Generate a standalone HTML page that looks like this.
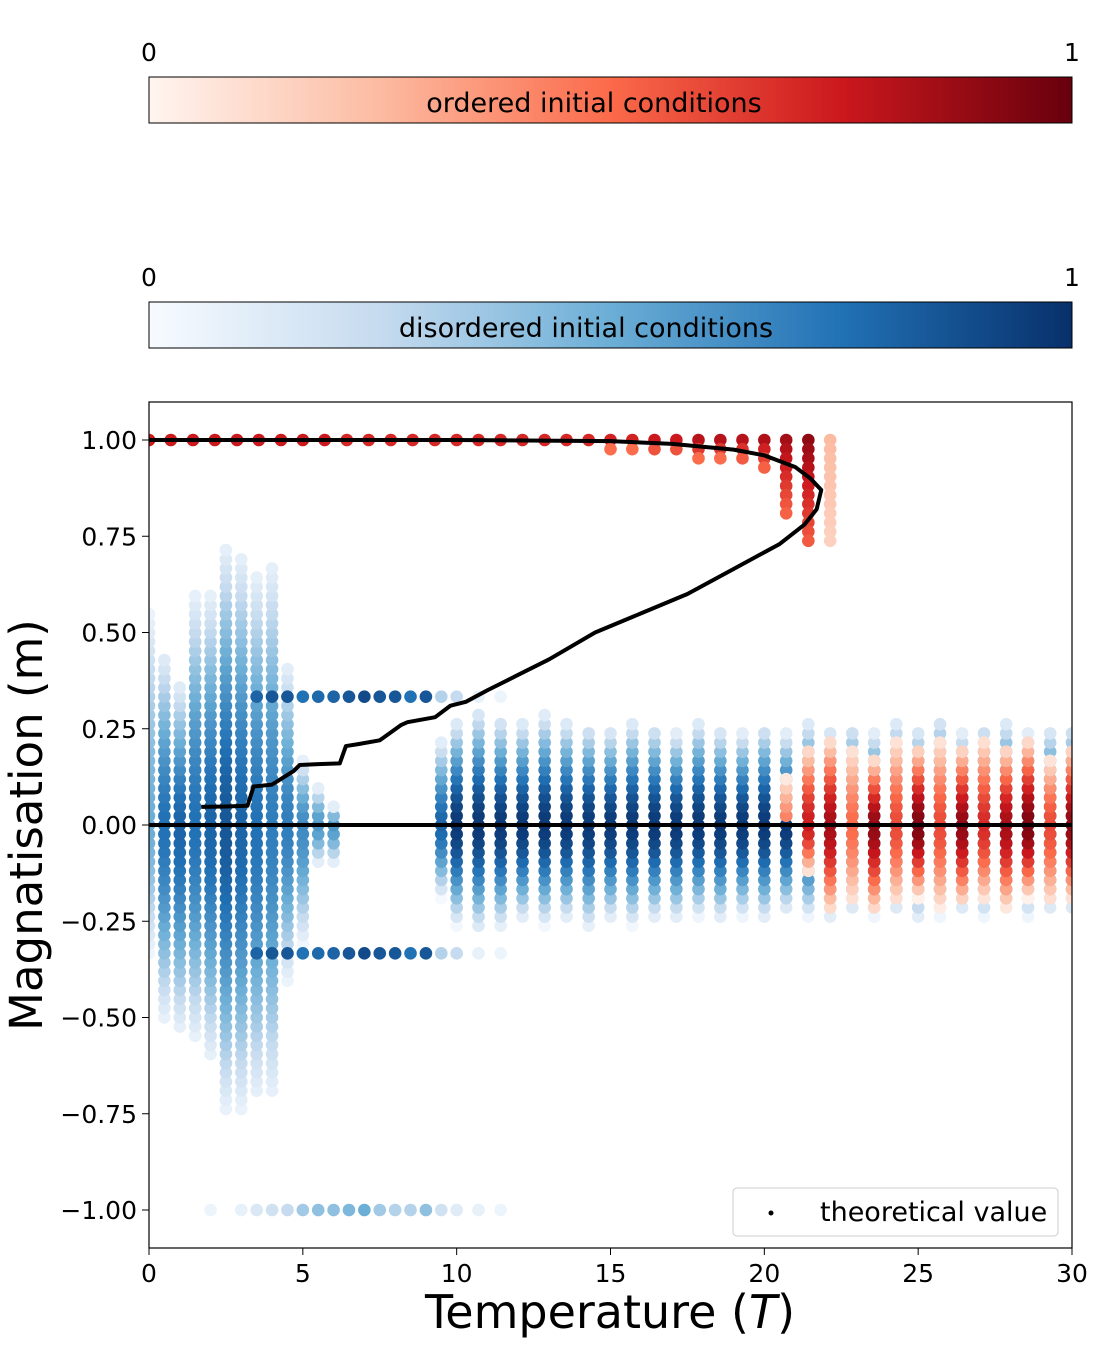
<!DOCTYPE html>
<html><head><meta charset="utf-8"><style>
body{margin:0;background:#fff;}
svg text{font-family:"DejaVu Sans","Liberation Sans",sans-serif;}
</style></head><body>
<svg id="chart" width="1100" height="1350" xmlns="http://www.w3.org/2000/svg">
<defs>
<linearGradient id="gReds" x1="0" x2="1" y1="0" y2="0">
<stop offset="0" stop-color="#fff5f0"/><stop offset="0.25" stop-color="#fcbba1"/><stop offset="0.5" stop-color="#fb6a4a"/><stop offset="0.75" stop-color="#cb181d"/><stop offset="1" stop-color="#67000d"/></linearGradient>
<linearGradient id="gBlues" x1="0" x2="1" y1="0" y2="0">
<stop offset="0" stop-color="#f7fbff"/><stop offset="0.25" stop-color="#c6dbef"/><stop offset="0.5" stop-color="#6baed6"/><stop offset="0.75" stop-color="#2171b5"/><stop offset="1" stop-color="#08306b"/></linearGradient>
<clipPath id="plotClip"><rect x="149" y="402" width="923" height="846"/></clipPath>
</defs>
<g>
<rect x="149" y="77" width="923" height="46" fill="url(#gReds)" stroke="#000" stroke-width="1"/>
<text x="149" y="61" font-size="25" text-anchor="middle">0</text>
<text x="1072" y="61" font-size="25" text-anchor="middle">1</text>
<text x="594" y="112" font-size="27" text-anchor="middle">ordered initial conditions</text>
</g>
<g>
<rect x="149" y="302" width="923" height="46" fill="url(#gBlues)" stroke="#000" stroke-width="1"/>
<text x="149" y="286" font-size="25" text-anchor="middle">0</text>
<text x="1072" y="286" font-size="25" text-anchor="middle">1</text>
<text x="586" y="337" font-size="27" text-anchor="middle">disordered initial conditions</text>
</g>
<g id="marks" clip-path="url(#plotClip)"></g>
<rect x="149" y="402" width="923" height="846" fill="none" stroke="#000" stroke-width="1.2"/>
<g id="axes"></g>
<text x="610" y="1328" font-size="46" text-anchor="middle">Temperature (<tspan font-style="italic">T</tspan>)</text>
<text transform="translate(42,825) rotate(-90)" font-size="45" text-anchor="middle">Magnatisation (m)</text>
<g>
<rect x="733" y="1188" width="325" height="48" rx="4" fill="#fff" stroke="#ccc"/>
<circle cx="771" cy="1213" r="2.5" fill="#000"/>
<text x="820" y="1221" font-size="27">theoretical value</text>
</g>
</svg>
<script>
// ---- data ----
const blueT   = [0,0.5,1,1.5,2,2.5,3,3.5,4,4.5,5,5.5,6,6.5,7,7.5,8,8.5,9,9.5,10,10.71,11.43,12.14,12.86,13.57,14.29,15,15.71,16.43,17.14,17.86,18.57,19.29,20,20.71,21.43,22.14,22.86,23.57,24.29,25,25.71,26.43,27.14,27.86,28.57,29.29,30];
const blueLo  = [-0.33,-0.5,-0.53,-0.55,-0.6,-0.73,-0.73,-0.7,-0.7,-0.4,-0.3,-0.1,-0.1,0,0,0,0,0,0,-0.18,-0.25,-0.27,-0.26,-0.24,-0.25,-0.24,-0.26,-0.24,-0.25,-0.24,-0.24,-0.23,-0.24,-0.23,-0.24,-0.22,-0.23,-0.24,-0.22,-0.23,-0.22,-0.24,-0.23,-0.22,-0.23,-0.22,-0.23,-0.22,-0.22];
const blueHi  = [0.56,0.45,0.37,0.6,0.6,0.72,0.7,0.65,0.68,0.42,0.17,0.1,0.05,0,0,0,0,0,0,0.22,0.27,0.3,0.28,0.27,0.29,0.27,0.26,0.25,0.27,0.26,0.24,0.27,0.25,0.24,0.26,0.24,0.27,0.25,0.26,0.24,0.27,0.25,0.28,0.24,0.26,0.27,0.24,0.25,0.26];
const bluePk  = [0.5,0.75,0.8,0.75,0.8,0.85,0.8,0.75,0.7,0.7,0.65,0.6,0.6,0,0,0,0,0,0,0.8,0.97,0.97,0.97,0.97,0.97,0.97,0.97,0.97,0.97,0.97,0.97,0.97,0.97,0.97,0.97,0.97,0.97,0.97,0.97,0.97,0.97,0.97,0.97,0.97,0.97,0.97,0.97,0.97,0.97];
const thirdT  = [3.5,4,4.5,5,5.5,6,6.5,7,7.5,8,8.5,9,9.5,10,10.71,11.43];
const thirdPk = [0.8,0.85,0.85,0.75,0.78,0.8,0.85,0.9,0.85,0.85,0.75,0.85,0.3,0.25,0.08,0.05];
const negOneT = [2,3,3.5,4,4.5,5,5.5,6,6.5,7,7.5,8,8.5,9,9.5,10,10.71,11.43];
const negOnePk= [0.05,0.08,0.15,0.2,0.25,0.35,0.4,0.4,0.45,0.5,0.35,0.3,0.3,0.4,0.2,0.12,0.08,0.05];
const redTopT = [0,0.71,1.43,2.14,2.86,3.57,4.29,5,5.71,6.43,7.14,7.86,8.57,9.29,10,10.71,11.43,12.14,12.86,13.57,14.29,15,15.71,16.43,17.14,17.86,18.57,19.29,20,20.71,21.43,22.14];
const redTopLo= [1,1,1,1,1,1,1,1,1,1,1,1,1,1,1,0.99,0.99,0.99,0.99,0.99,0.98,0.97,0.97,0.96,0.96,0.95,0.95,0.94,0.92,0.8,0.73,0.73];
const redTopPk= [0.75,0.75,0.75,0.75,0.75,0.75,0.75,0.75,0.75,0.7,0.7,0.7,0.7,0.7,0.7,0.7,0.7,0.7,0.7,0.7,0.7,0.72,0.72,0.75,0.75,0.8,0.8,0.8,0.82,0.85,0.9,0.25];
const redT    = [20.71,21.43,22.14,22.86,23.57,24.29,25,25.71,26.43,27.14,27.86,28.57,29.29,30];
const redLo   = [0.02,-0.12,-0.22,-0.2,-0.22,-0.2,-0.18,-0.21,-0.2,-0.19,-0.21,-0.18,-0.2,-0.19];
const redHi   = [0.12,0.2,0.22,0.2,0.17,0.22,0.2,0.22,0.2,0.22,0.2,0.22,0.17,0.2];
const redPk   = [0.45,0.75,0.85,0.5,0.9,0.6,0.95,0.6,0.9,0.7,0.85,0.95,0.6,0.9];
const theoT   = [0,5,10,15,17,19,20,21,21.5,21.85,21.7,21.3,20.5,19,17.5,16,14.5,13,12,11,10.3,9.8,9.3,8.4,8.2,7.5,6.8,6.4,6.2,5.5,4.9,4.7,4,3.4,3.2,2.5,1.7];
const theoM   = [1,1,1,0.997,0.99,0.975,0.96,0.93,0.9,0.87,0.82,0.78,0.73,0.665,0.6,0.55,0.5,0.43,0.39,0.35,0.32,0.31,0.28,0.267,0.26,0.22,0.21,0.205,0.16,0.158,0.156,0.14,0.105,0.1,0.05,0.048,0.047];
const yTicks  = [1,0.75,0.5,0.25,0,-0.25,-0.5,-0.75,-1];
const yTickLabels = ["1.00","0.75","0.50","0.25","0.00","\u22120.25","\u22120.50","\u22120.75","\u22121.00"];
const xTicks  = [0,5,10,15,20,25,30];
// ---- scales ----
const xS = t => 149 + t/30*923;
const yS = m => 825 - m*385;
const NS="http://www.w3.org/2000/svg";
function lerp(stops,v){v=Math.max(0,Math.min(1,v));const n=stops.length-1;const i=Math.min(n-1,Math.floor(v*n));const f=v*n-i;const a=stops[i],b=stops[i+1];
 return `rgb(${Math.round(a[0]+(b[0]-a[0])*f)},${Math.round(a[1]+(b[1]-a[1])*f)},${Math.round(a[2]+(b[2]-a[2])*f)})`;}
const BL=[[247,251,255],[198,219,239],[107,174,214],[33,113,181],[8,48,107]];
const RD=[[255,245,240],[252,187,161],[251,106,74],[203,24,29],[103,0,13]];
const marks=document.getElementById('marks');
function dot(t,m,c,r){const e=document.createElementNS(NS,'circle');
 e.setAttribute('cx',xS(t));e.setAttribute('cy',yS(m));e.setAttribute('r',r||6.3);e.setAttribute('fill',c);
 
 
 marks.appendChild(e);}
const step=0.0238;
function column(t,lo,hi,pk,cmap){if(pk<=0)return;
 for(let m=Math.round(lo/step)*step;m<=hi+1e-6;m+=step){
  const ext=m>=0?Math.max(hi,0.01):Math.max(-lo,0.01);
  const f=Math.abs(m)/ext; const v=pk*(1-0.9*Math.pow(f,1.6));
  dot(t,m,lerp(cmap,v));}}
blueT.forEach((t,i)=>column(t,blueLo[i],blueHi[i],bluePk[i],BL));
thirdT.forEach((t,i)=>{dot(t,1/3,lerp(BL,thirdPk[i]));dot(t,-1/3,lerp(BL,thirdPk[i]));});
negOneT.forEach((t,i)=>dot(t,-1,lerp(BL,negOnePk[i])));
redTopT.forEach((t,i)=>{for(let m=1;m>=redTopLo[i]-1e-6;m-=step){const f=(1-m)/Math.max(1-redTopLo[i],0.01);dot(t,m,lerp(RD,redTopPk[i]*(1-0.4*f)));}});
redT.forEach((t,i)=>column(t,redLo[i],redHi[i],redPk[i],RD));
// theoretical curve
const zl=document.createElementNS(NS,'line');
zl.setAttribute('x1',xS(0));zl.setAttribute('x2',xS(30));zl.setAttribute('y1',yS(0));zl.setAttribute('y2',yS(0));
zl.setAttribute('stroke','#000');zl.setAttribute('stroke-width','4');


marks.appendChild(zl);
const pl=document.createElementNS(NS,'polyline');
pl.setAttribute('points',theoT.map((t,i)=>xS(t)+','+yS(theoM[i])).join(' '));
pl.setAttribute('fill','none');pl.setAttribute('stroke','#000');pl.setAttribute('stroke-width','4');pl.setAttribute('stroke-linejoin','round');


marks.appendChild(pl);
// axes
const ax=document.getElementById('axes');
yTicks.forEach((v,i)=>{const l=document.createElementNS(NS,'line');l.setAttribute('x1',142);l.setAttribute('x2',149);l.setAttribute('y1',yS(v));l.setAttribute('y2',yS(v));l.setAttribute('stroke','#000');
 
 
 ax.appendChild(l);
 const tx=document.createElementNS(NS,'text');tx.setAttribute('x',137);tx.setAttribute('y',yS(v)+9);tx.setAttribute('font-size','25');tx.setAttribute('text-anchor','end');tx.textContent=yTickLabels[i];
 
 
 ax.appendChild(tx);});
xTicks.forEach(v=>{const l=document.createElementNS(NS,'line');l.setAttribute('x1',xS(v));l.setAttribute('x2',xS(v));l.setAttribute('y1',1248);l.setAttribute('y2',1255);l.setAttribute('stroke','#000');
 
 
 ax.appendChild(l);
 const tx=document.createElementNS(NS,'text');tx.setAttribute('x',xS(v));tx.setAttribute('y',1282);tx.setAttribute('font-size','25');tx.setAttribute('text-anchor','middle');tx.textContent=v;
 
 
 ax.appendChild(tx);});
</script>
</body></html>
